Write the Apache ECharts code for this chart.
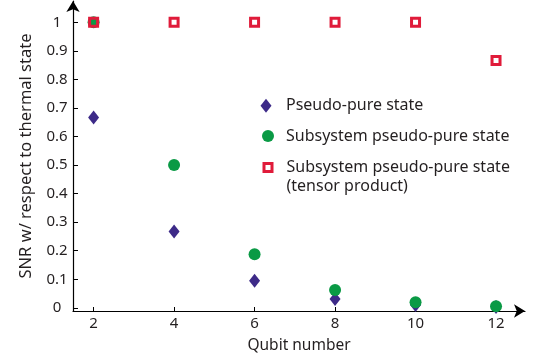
<!DOCTYPE html>
<html>
<head>
<meta charset="utf-8">
<script src="https://cdn.jsdelivr.net/npm/echarts@6/dist/echarts.min.js"></script>
<style>
html,body{margin:0;padding:0;background:#fff;}
#chart{width:536px;height:356px;}
</style>
</head>
<body>
<div id="chart"></div>
<script>
const qubits = [2, 4, 6, 8, 10, 12];
const pseudoPure = [0.667, 0.267, 0.095, 0.031, 0.010, 0.003];
const subsystemPP = [1.0, 0.5, 0.1875, 0.0625, 0.0195, 0.006];
const tensorProduct = [1.0, 1.0, 1.0, 1.0, 1.0, 0.866];
const xTicks = [2, 4, 6, 8, 10, 12];
const yTicks = [0, 0.1, 0.2, 0.3, 0.4, 0.5, 0.6, 0.7, 0.8, 0.9, 1];
const seriesNames = ['Pseudo-pure state', 'Subsystem pseudo-pure state', 'Subsystem pseudo-pure state (tensor product)'];
const legendLines = ['Pseudo-pure state', 'Subsystem pseudo-pure state', 'Subsystem pseudo-pure state', '(tensor product)'];

const txt = '#231f20';
const font = 'Noto Sans';
const colors = ['#3d2a88', '#0a9a45', '#e01b3a'];
const pair = (xs, ys) => xs.map((x, i) => [x, ys[i]]);
const legendText = { fontSize: 16, color: txt, fontFamily: font };

const chart = echarts.init(document.getElementById('chart'));
chart.setOption({
  animation: false,
  backgroundColor: '#fff',
  textStyle: { fontFamily: font, color: txt },
  grid: { left: 73, right: 11, top: 1, bottom: 45, containLabel: false, outerBoundsMode: 'none' },
  xAxis: {
    type: 'value', min: 1.488, max: 12.72,
    name: 'Qubit number', nameLocation: 'middle', nameGap: 27,
    nameTextStyle: { fontSize: 15.5, color: txt, fontFamily: font },
    splitLine: { show: false },
    axisLine: { onZero: false, symbol: ['none', 'arrow'], symbolSize: [10, 11], lineStyle: { color: '#000', width: 1.2 } },
    axisTick: { inside: true, length: 4, customValues: xTicks, lineStyle: { color: '#000' } },
    axisLabel: { customValues: xTicks, fontSize: 15, color: txt, fontFamily: font, margin: 5 }
  },
  yAxis: {
    type: 'value', min: -0.011, max: 1.0746,
    name: 'SNR w/ respect to thermal state', nameLocation: 'middle', nameGap: 38,
    nameTextStyle: { fontSize: 16.5, color: txt, fontFamily: font },
    splitLine: { show: false },
    axisLine: { onZero: false, symbol: ['none', 'arrow'], symbolSize: [10, 11], lineStyle: { color: '#000', width: 1.2 } },
    axisTick: { inside: true, length: 5, customValues: yTicks, lineStyle: { color: '#000' } },
    axisLabel: { customValues: yTicks, fontSize: 15, color: txt, fontFamily: font, align: 'center', margin: 16,
      formatter: v => String(Math.round(v * 10) / 10) }
  },
  legend: [
    { orient: 'vertical', left: 260.5, top: 97.7, padding: 0, itemWidth: 11, itemHeight: 14,
      textStyle: Object.assign({ padding: [0, 0, 0, 9.5] }, legendText),
      data: [{ name: seriesNames[0] }] },
    { orient: 'vertical', left: 262, top: 128, padding: 0, itemWidth: 12, itemHeight: 12,
      textStyle: Object.assign({ padding: [0, 0, 0, 7] }, legendText),
      data: [{ name: seriesNames[1] }] },
    { orient: 'vertical', left: 262.5, top: 159.5, padding: 0, itemWidth: 8, itemHeight: 8,
      textStyle: Object.assign({ padding: [0, 0, 0, 9.5] }, legendText),
      formatter: () => legendLines[2],
      data: [{ name: seriesNames[2], itemStyle: { borderWidth: 3, borderColor: colors[2], color: '#fff' } }] }
  ],
  graphic: [
    { type: 'text', left: 286.5, top: 178, style: { text: legendLines[3], fill: txt, font: '16px "Noto Sans"' } }
  ],
  series: [
    { name: seriesNames[0], type: 'scatter', symbol: 'diamond', symbolSize: [11, 14],
      itemStyle: { color: colors[0], opacity: 1 }, data: pair(qubits, pseudoPure), z: 2 },
    { name: seriesNames[1], type: 'scatter', symbol: 'circle', symbolSize: 12,
      itemStyle: { color: colors[1], opacity: 1 }, data: pair(qubits, subsystemPP), z: 3 },
    { name: seriesNames[2], type: 'scatter', symbol: 'rect', symbolSize: 8,
      itemStyle: { color: 'rgba(255,255,255,0)', borderColor: colors[2], borderWidth: 3, opacity: 1 },
      data: pair(qubits, tensorProduct), z: 4 }
  ]
});
</script>
</body>
</html>
